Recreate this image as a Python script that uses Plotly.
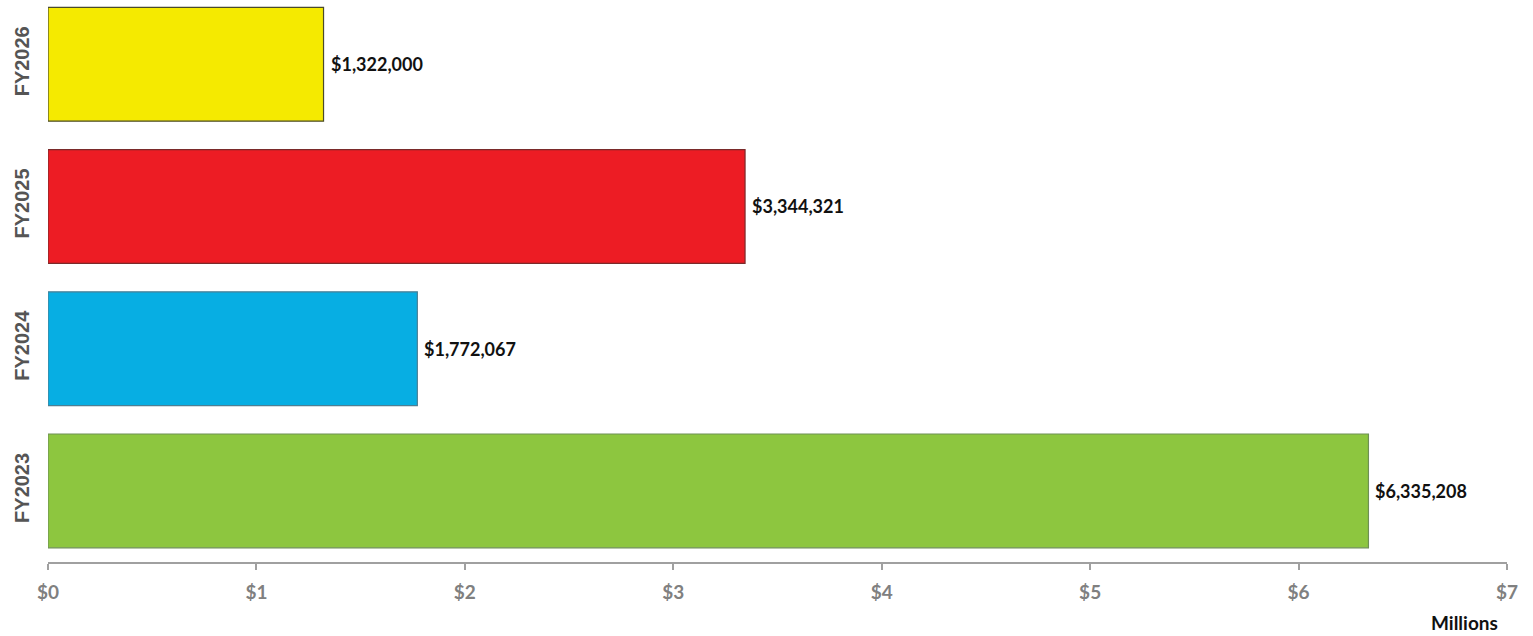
import plotly.graph_objects as go

# Funding by fiscal year (dollars)
years = ["FY2023", "FY2024", "FY2025", "FY2026"]
amounts = [6335208, 1772067, 3344321, 1322000]
bar_colors = ["#8DC63F", "#07AEE3", "#ED1C24", "#F5EA00"]
edge_colors = ["#6E8F55", "#4D7F93", "#7A2A2A", "#4A4A2A"]
x_ticks = [0, 1, 2, 3, 4, 5, 6, 7]
x_tick_text = [f"${v}" for v in x_ticks]

values_m = [a / 1e6 for a in amounts]
labels = [f"${a:,.0f}" for a in amounts]

fig = go.Figure(
    go.Bar(
        y=years,
        x=values_m,
        orientation="h",
        marker=dict(color=bar_colors, line=dict(color=edge_colors, width=1.2)),
        width=0.8,
        hoverinfo="x+y",
    )
)

# Value labels just past the end of each bar
annotations = [
    dict(
        x=v, y=yr, xref="x", yref="y", text=t, showarrow=False,
        xanchor="left", yanchor="middle", xshift=5,
        font=dict(family="Lato", size=18, color="#111111", weight="bold"),
    )
    for v, yr, t in zip(values_m, years, labels)
]

plot_w = 1533 - 48 - 26
plot_h = 636 - 74
annotations.append(
    dict(
        text="Millions",
        x=(1464 - 48) / plot_w,
        y=-(622 - 562) / plot_h,
        xref="paper", yref="paper",
        xanchor="center", yanchor="middle",
        showarrow=False,
        font=dict(family="Lato", size=19, color="#111111", weight="bold"),
    )
)

fig.update_layout(
    width=1533,
    height=636,
    margin=dict(l=48, r=26, t=0, b=74),
    plot_bgcolor="white",
    paper_bgcolor="white",
    showlegend=False,
    xaxis=dict(
        range=[0, 7],
        tickmode="array",
        tickvals=x_ticks,
        ticktext=x_tick_text,
        showgrid=False,
        zeroline=False,
        showline=True,
        linecolor="#A0A0A0",
        linewidth=2,
        ticks="outside",
        ticklen=6,
        tickcolor="#A0A0A0",
        tickwidth=2,
        ticklabelstandoff=6,
        tickfont=dict(family="Lato", size=19, color="#808080", weight="bold"),
    ),
    yaxis=dict(
        range=[-0.5, 3.452],
        showgrid=False,
        zeroline=False,
        showline=False,
        tickangle=-90,
        ticklabelstandoff=14,
        tickfont=dict(family="Liberation Sans", size=20, color="#555555", weight="bold"),
    ),
    annotations=annotations,
)

fig.write_html("out.html")
